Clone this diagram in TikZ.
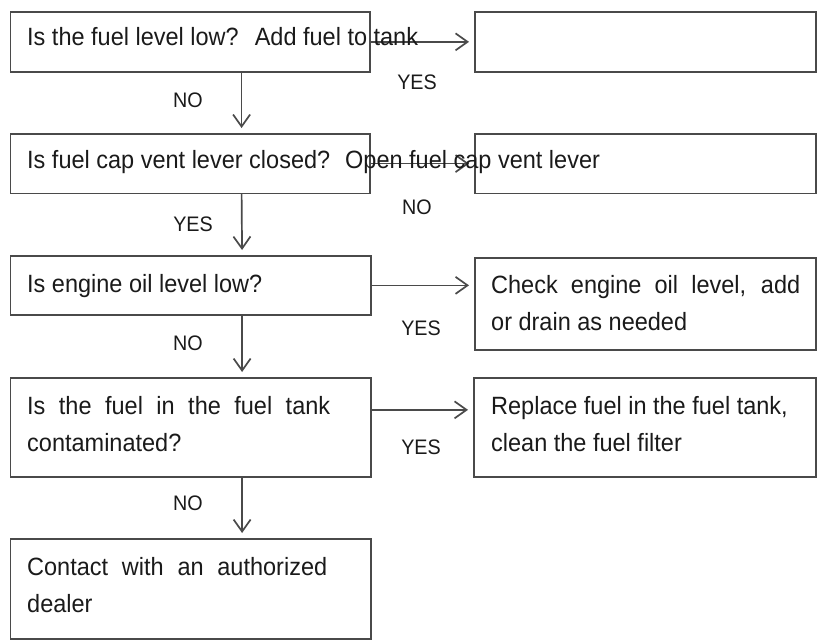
\documentclass[tikz,border=0pt]{standalone}
\usepackage{fontspec}
\setmainfont[FakeStretch=0.94]{Liberation Sans}
\usetikzlibrary{arrows.meta}
\definecolor{linec}{HTML}{4A4A4A}
\definecolor{textc}{HTML}{1A1A1A}
\begin{document}
\begin{tikzpicture}[x=1pt,y=-1pt,
  box/.style={draw=linec, line width=1.7pt, rectangle, inner sep=0pt, anchor=north west},
  txt/.style={anchor=base west, inner sep=0pt, text=textc, font=\fontsize{25}{37}\selectfont, align=left},
  lab/.style={inner sep=0pt, text=textc, font=\fontsize{21}{24}\selectfont},
  arr/.style={draw=linec, line width=1.7pt, -{Straight Barb[length=12pt,width=17pt,line width=1.7pt]}, shorten >=5pt}
]
\useasboundingbox (0,0) rectangle (817,642);
% boxes
\node[box, minimum width=359.5pt, minimum height=60pt] (b1) at (9.5,11) {};
\node[box, minimum width=341pt, minimum height=60pt] (r1) at (474,11) {};
\node[box, minimum width=359.5pt, minimum height=59.5pt] (b2) at (9.5,133) {};
\node[box, minimum width=341pt, minimum height=59.5pt] (r2) at (474,133) {};
\node[box, minimum width=360.5pt, minimum height=59pt] (b3) at (9.5,255) {};
\node[box, minimum width=341pt, minimum height=92pt] (r3) at (474,257) {};
\node[box, minimum width=360.5pt, minimum height=99pt] (b4) at (9.5,377) {};
\node[box, minimum width=342pt, minimum height=99pt] (r4) at (473,377) {};
\node[box, minimum width=360.5pt, minimum height=100pt] (b5) at (9.5,538) {};
% connectors
\draw[arr] (b1.east) -- (r1.west);
\draw[arr] (b2.east) -- (r2.west);
\draw[arr] (b3.east) -- (b3.east -| r3.west);
\draw[arr] ([yshift=17.5pt]b4.east) -- ([yshift=17.5pt]b4.east -| r4.west);
\draw[arr] ([xshift=51.5pt]b1.south) -- ([xshift=51.5pt]b2.north);
\draw[arr] ([xshift=51.5pt]b2.south) -- ([xshift=51.5pt]b3.north);
\draw[arr] ([xshift=51.5pt]b3.south) -- ([xshift=51.5pt]b4.north);
\draw[arr] ([xshift=51.5pt]b4.south) -- ([xshift=51.5pt]b5.north);
% labels
\node[lab] (l1) at (417,82) {YES};
\node[lab] (l2) at (188,100) {NO};
\node[lab] (l3) at (417,207) {NO};
\node[lab] (l4) at (193,224) {YES};
\node[lab] (l5) at (421,328) {YES};
\node[lab] (l6) at (188,343) {NO};
\node[lab] (l7) at (421,447) {YES};
\node[lab] (l8) at (188,503) {NO};
% texts (base anchor = last line's baseline)
\node[txt] (t1) at (27,46) {Is the fuel level low?\hspace{16pt}Add fuel to tank};
\node[txt] (t2) at (27,168) {Is fuel cap vent lever closed?\hspace{15pt}Open fuel cap vent lever};
\node[txt] (t3) at (27,292) {Is engine oil level low?};
\node[txt] (t3r) at (491,330) {\makebox[309pt][s]{Check engine oil level, add}\\or drain as needed};
\node[txt] (t4) at (27,451) {\makebox[303pt][s]{Is the fuel in the fuel tank}\\contaminated?};
\node[txt] (t4r) at (491,451) {Replace fuel in the fuel tank,\\clean the fuel filter};
\node[txt] (t5) at (27,612) {\makebox[300pt][s]{Contact with an authorized}\\dealer};
\end{tikzpicture}
\end{document}
